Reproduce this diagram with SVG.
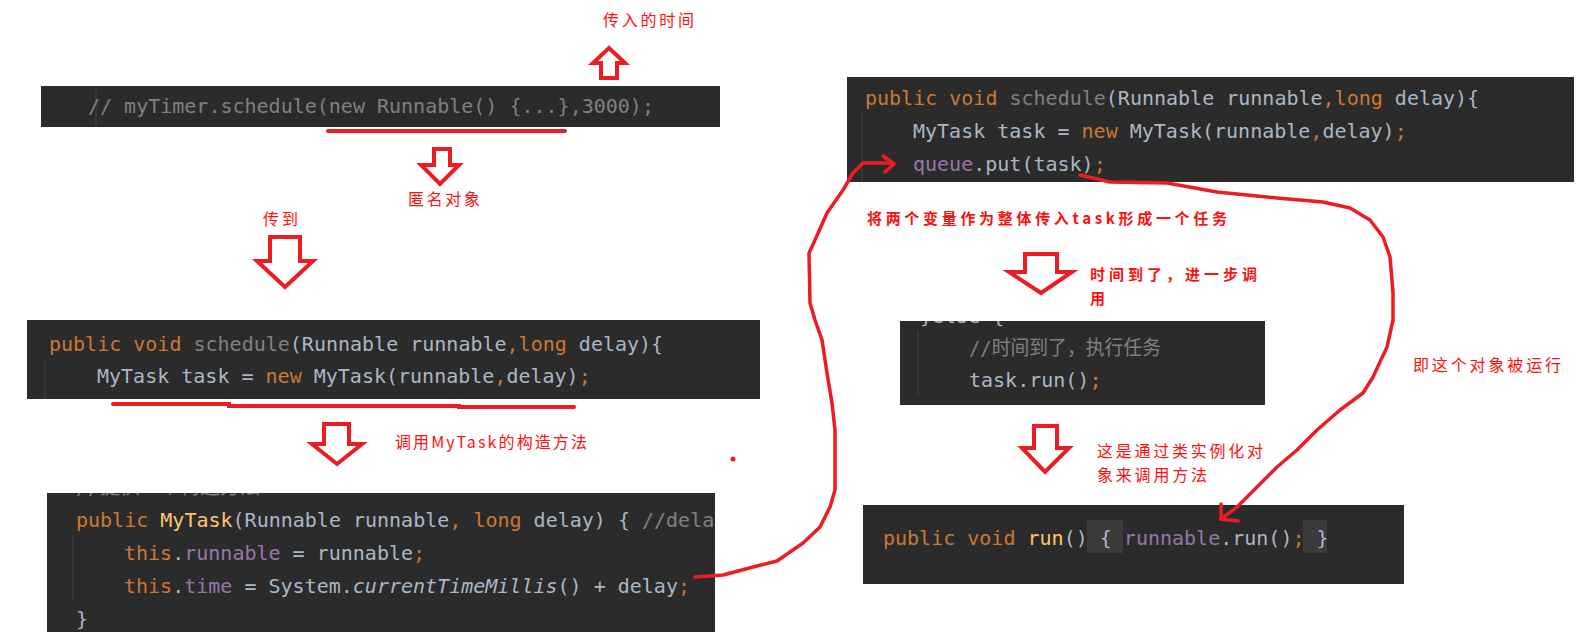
<svg xmlns="http://www.w3.org/2000/svg" width="1594" height="640" viewBox="0 0 1594 640">
<defs>
<style>
.panel{fill:#2b2b2b}
.guide{stroke:#3c3c3c;stroke-width:1.5}
.code{font-family:"DejaVu Sans Mono","Liberation Mono","Noto Sans CJK SC",monospace;font-size:20px;fill:#a9b7c6}
.kw{fill:#cc7832}
.cm{fill:#808080}
.fn{fill:#ffc66d}
.fd{fill:#9876aa}
.it{font-style:italic}
.hl{fill:#3b3b3b}
.note{font-family:"Noto Sans CJK SC","Noto Sans",sans-serif;font-size:16px;fill:#ff1010}
.noteb{font-family:"Noto Sans CJK SC","Noto Sans",sans-serif;font-size:15px;font-weight:700;fill:#ff1010}
.blk{fill:#fff;stroke:#ed1c24;stroke-width:4;stroke-linejoin:miter}
.ink{fill:none;stroke:#ed1c24;stroke-width:3.5;stroke-linecap:round;stroke-linejoin:round}
.ul{fill:none;stroke:#ed1c24;stroke-width:4;stroke-linecap:round}
</style>
<clipPath id="clipC"><rect x="47" y="493" width="668" height="139"/></clipPath>
<clipPath id="clipE"><rect x="900" y="321" width="365" height="84"/></clipPath>
</defs>
<rect width="1594" height="640" fill="#fff"/>

<g id="panel-a">
<rect class="panel" x="41" y="86" width="679" height="41"/>
<line class="guide" x1="96" y1="86" x2="96" y2="127"/>
<text class="code cm" x="88" y="113">// myTimer.schedule(new Runnable() {...},3000);</text>
</g>

<g id="panel-b">
<rect class="panel" x="27" y="320" width="733" height="79"/>
<line class="guide" x1="45" y1="360" x2="45" y2="399"/>
<text class="code" x="49" y="351"><tspan class="kw">public void </tspan><tspan class="cm">schedule</tspan>(Runnable runnable<tspan class="kw">,long</tspan> delay){</text>
<text class="code" x="97" y="383">MyTask task = <tspan class="kw">new</tspan> MyTask(runnable<tspan class="kw">,</tspan>delay)<tspan class="kw">;</tspan></text>
</g>

<g id="panel-c">
<rect class="panel" x="47" y="493" width="668" height="139"/>
<line class="guide" x1="73" y1="535" x2="73" y2="600"/>
<g clip-path="url(#clipC)">
<text class="code cm" x="76" y="494">//提供一个构造方法</text>
<text class="code" x="76" y="527"><tspan class="kw">public </tspan><tspan class="fn">MyTask</tspan>(Runnable runnable<tspan class="kw">, long</tspan> delay) { <tspan class="cm">//delay</tspan></text>
<text class="code" x="124" y="560"><tspan class="kw">this</tspan>.<tspan class="fd">runnable</tspan> = runnable<tspan class="kw">;</tspan></text>
<text class="code" x="124" y="593"><tspan class="kw">this</tspan>.<tspan class="fd">time</tspan> = System.<tspan class="it">currentTimeMillis</tspan>() + delay<tspan class="kw">;</tspan></text>
<text class="code" x="76" y="626">}</text>
</g>
</g>

<g id="panel-d">
<rect class="panel" x="847" y="77" width="727" height="105"/>
<line class="guide" x1="862" y1="113" x2="862" y2="182"/>
<text class="code" x="865" y="105"><tspan class="kw">public void </tspan><tspan class="cm">schedule</tspan>(Runnable runnable<tspan class="kw">,long</tspan> delay){</text>
<text class="code" x="913" y="138">MyTask task = <tspan class="kw">new</tspan> MyTask(runnable<tspan class="kw">,</tspan>delay)<tspan class="kw">;</tspan></text>
<text class="code" x="913" y="171"><tspan class="fd">queue</tspan>.put(task)<tspan class="kw">;</tspan></text>
</g>

<g id="panel-e">
<rect class="panel" x="900" y="321" width="365" height="84"/>
<line class="guide" x1="918" y1="330" x2="918" y2="395"/>
<g clip-path="url(#clipE)">
<text class="code" x="920" y="323">}else {</text>
</g>
<text class="code cm" x="969" y="355" textLength="192" lengthAdjust="spacingAndGlyphs">//时间到了，执行任务</text>
<text class="code" x="969" y="387">task.run()<tspan class="kw">;</tspan></text>
</g>

<g id="panel-f">
<rect class="panel" x="863" y="505" width="541" height="79"/>
<rect class="hl" x="1087" y="520" width="36" height="33"/>
<rect class="hl" x="1303" y="520" width="24" height="33"/>
<text class="code" x="883" y="545"><tspan class="kw">public void </tspan><tspan class="fn">run</tspan>() { <tspan class="fd">runnable</tspan>.run()<tspan class="kw">;</tspan> }</text>
</g>

<g id="notes">
<text class="note" x="603" y="26" textLength="91">传入的时间</text>
<text class="note" x="408" y="205" textLength="72">匿名对象</text>
<text class="note" x="263" y="225" textLength="35">传到</text>
<text class="note" x="395" y="448" textLength="192">调用MyTask的构造方法</text>
<text class="noteb" x="867" y="224" textLength="360">将两个变量作为整体传入task形成一个任务</text>
<text class="noteb" x="1090" y="280" textLength="167">时间到了，进一步调</text>
<text class="noteb" x="1090" y="304">用</text>
<text class="note" x="1413" y="371" textLength="148">即这个对象被运行</text>
<text class="note" x="1097" y="457" textLength="166">这是通过类实例化对</text>
<text class="note" x="1097" y="481" textLength="110">象来调用方法</text>
<circle cx="733" cy="459" r="2.5" fill="#ed1c24"/>
</g>

<g id="connectors">
<path class="ul" d="M328,131 H565"/>
<path class="ul" d="M113,404 H229 L229,406 H459 L459,407 H574"/>
<path class="blk" d="M601,78 V63 H593 L609,48 L625,63 H617 V78 Z"/>
<path class="blk" d="M434,149 H450 V165 H459 L440,184 L421,165 H434 Z"/>
<path class="blk" d="M270,237 H300 V261 H313 L285,287 L257,261 H270 Z"/>
<path class="blk" d="M324,424 H349 V444 H362 L337,464 L312,444 H324 Z"/>
<path class="blk" d="M1025,254 H1057 V272 H1072 L1041,293 L1009,272 H1025 Z"/>
<path class="blk" d="M1034,426 H1057 V448 H1069 L1045,472 L1022,448 H1034 Z"/>
<path class="ink" d="M695,577 L723,575 L757,566 L777,561 L803,543 L820,527 L830,507 L835,490 L835,430 L832,403 L827,373 L822,340 L815,320 L810,303 L809,253 L815,240 L827,213 L843,190 L853,173 L863,163 L893,163"/>
<path class="ink" d="M883,156 L894,164 L885,172"/>
<path class="ink" d="M1080,175 L1110,182 L1167,183 L1217,192 L1277,198 L1323,202 L1350,208 L1370,220 L1383,237 L1390,257 L1393,293 L1393,320 L1387,347 L1373,377 L1363,393 L1340,410 L1317,430 L1297,450 L1277,467 L1257,487 L1237,507 L1221,519"/>
<path class="ink" d="M1221,504 L1221,519 L1238,521"/>
</g>
</svg>
